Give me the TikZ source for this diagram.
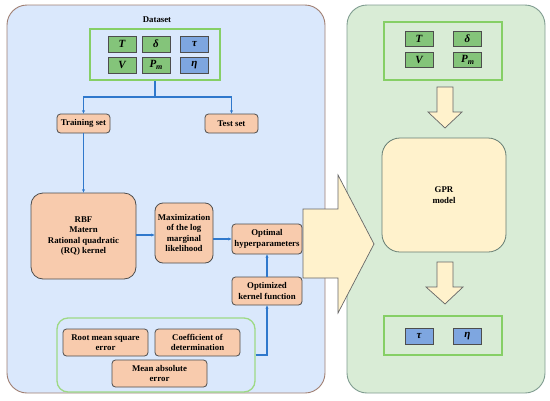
\documentclass[tikz,border=0pt]{standalone}
\usepackage{fontspec}
\setmainfont{Liberation Serif}
\usetikzlibrary{arrows.meta}
\definecolor{lpfill}{HTML}{DAE8FC}
\definecolor{lpdraw}{HTML}{A07F72}
\definecolor{rpfill}{HTML}{D9ECD6}
\definecolor{rpdraw}{HTML}{7F9C90}
\definecolor{gframe}{HTML}{86CF66}
\definecolor{gcell}{HTML}{84C47A}
\definecolor{bcell}{HTML}{7EA6E0}
\definecolor{obox}{HTML}{F8CBAD}
\definecolor{ybox}{HTML}{FFF2CC}
\definecolor{conn}{HTML}{2F78CC}
\definecolor{dgray}{HTML}{4D4D4D}
\tikzset{
  panel/.style={rounded corners=20pt, line width=0.9pt, inner sep=0pt},
  gfr/.style={draw=gframe, line width=1.3pt, inner sep=0pt},
  cellg/.style={draw=dgray, fill=gcell, line width=0.7pt, inner sep=0pt, minimum width=28pt, minimum height=16pt, font=\fontsize{11}{12}\selectfont\bfseries\itshape},
  cellb/.style={cellg, fill=bcell},
  obx/.style={draw=dgray, fill=obox, line width=0.8pt, rounded corners=3.5pt, inner sep=0pt, align=center, font=\fontsize{8.8}{10.5}\selectfont\bfseries},
  conn/.style={draw=conn, line width=1.1pt},
  tip/.style={conn, -{Stealth[length=3.5pt,width=3pt]}},
  bigarrow/.style={fill=ybox, draw=gray!80!black, line width=0.7pt, line join=miter},
}
\begin{document}
\begin{tikzpicture}[x=1pt,y=-1pt]
\useasboundingbox (0,0) rectangle (550,400);
% panels
\node[panel, draw=lpdraw, fill=lpfill, minimum width=318pt, minimum height=388pt] (lp) at (166,199) {};
\node[panel, draw=rpdraw, fill=rpfill, minimum width=198pt, minimum height=388pt] (rp) at (446,199) {};
\node[font=\fontsize{8.8}{10.5}\selectfont\bfseries] (dslabel) at (157,20) {Dataset};
% dataset frame
\node[gfr, minimum width=130pt, minimum height=51pt] (dsf) at (155,54.5) {};
\node[cellg] (T) at (122,44) {T};
\node[cellg] (d) at (156,44) {δ};
\node[cellb] (tau) at (194.5,44) {τ};
\node[cellg] (V) at (122,65) {V};
\node[cellg] (Pm) at (156,65) {P\raisebox{-0.35ex}{\fontsize{8}{8}\selectfont m}};
\node[cellb] (eta) at (194.5,65) {η};
% train/test
\node[obx, minimum width=53pt, minimum height=19pt] (train) at (83.5,123.5) {Training set};
\node[obx, minimum width=53pt, minimum height=19pt] (test) at (231.5,123.5) {Test set};
\coordinate (split) at (155,97);
\draw[conn] (dsf.south) -- (split);
\draw[tip] (split) -| (train.north);
\draw[tip] (split) -| (test.north);
% kernels
\node[obx, rounded corners=12pt, minimum width=105pt, minimum height=86pt] (rbf) at (83.5,236) {RBF\\Matern\\Rational quadratic\\(RQ) kernel};
\draw[tip] (train.south) -- (rbf.north);
\node[obx, rounded corners=8pt, minimum width=58pt, minimum height=60pt] (maxi) at (184,233) {Maximization\\of the log\\marginal\\likelihood};
\node[obx, minimum width=70pt, minimum height=30pt] (opth) at (267,239) {Optimal\\hyperparameters};
\node[obx, minimum width=70pt, minimum height=28pt] (optk) at (267,291) {Optimized\\kernel function};
\draw[tip] (rbf.east |- 0,235) -- (maxi.west |- 0,235);
\draw[tip] (maxi.east |- opth.west) -- (opth.west);
\draw[tip] (optk.north) -- (opth.south);
% metrics
\node[gfr, draw=gframe!80!white, rounded corners=11pt, minimum width=198pt, minimum height=74pt] (mfr) at (156,355) {};
\node[obx, minimum width=85pt, minimum height=27pt] (rmse) at (105.5,342.5) {Root mean square\\error};
\node[obx, minimum width=85pt, minimum height=27pt] (coef) at (197.5,342.5) {Coefficient of\\determination};
\node[obx, minimum width=95pt, minimum height=27pt] (mae) at (159.5,373.5) {Mean absolute\\error};
\draw[tip] (mfr.east) -| (optk.south);
% big arrow
\draw[bigarrow] (303,209) -- (338,209) -- (338,175) -- (374,244) -- (338,313) -- (338,278) -- (303,278) -- cycle;
% right panel content
\node[gfr, minimum width=118pt, minimum height=58pt] (inf) at (443,51) {};
\node[cellg, minimum height=15pt] (T2) at (419,38.5) {T};
\node[cellg, minimum height=15pt] (d2) at (467.5,38.5) {δ};
\node[cellg, minimum height=15pt] (V2) at (419,60) {V};
\node[cellg, minimum height=15pt] (Pm2) at (467.5,60) {P\raisebox{-0.35ex}{\fontsize{8}{8}\selectfont m}};
\draw[bigarrow] (437,87) -- (453,87) -- (453,112) -- (462,112) -- (445,128) -- (428,112) -- (437,112) -- cycle;
\node[draw=rpdraw!80!black, fill=ybox, line width=0.8pt, rounded corners=18pt, minimum width=124pt, minimum height=114pt, align=center, inner sep=0pt, font=\fontsize{8.8}{10.5}\selectfont\bfseries] (gpr) at (444,195) {GPR\\model};
\draw[bigarrow] (437,262) -- (453,262) -- (453,287) -- (463,287) -- (445,304) -- (426,287) -- (437,287) -- cycle;
\node[gfr, minimum width=118pt, minimum height=39pt] (outf) at (443,335.5) {};
\node[cellb] (tau2) at (419,336) {τ};
\node[cellb] (eta2) at (467.5,336) {η};
\end{tikzpicture}
\end{document}
